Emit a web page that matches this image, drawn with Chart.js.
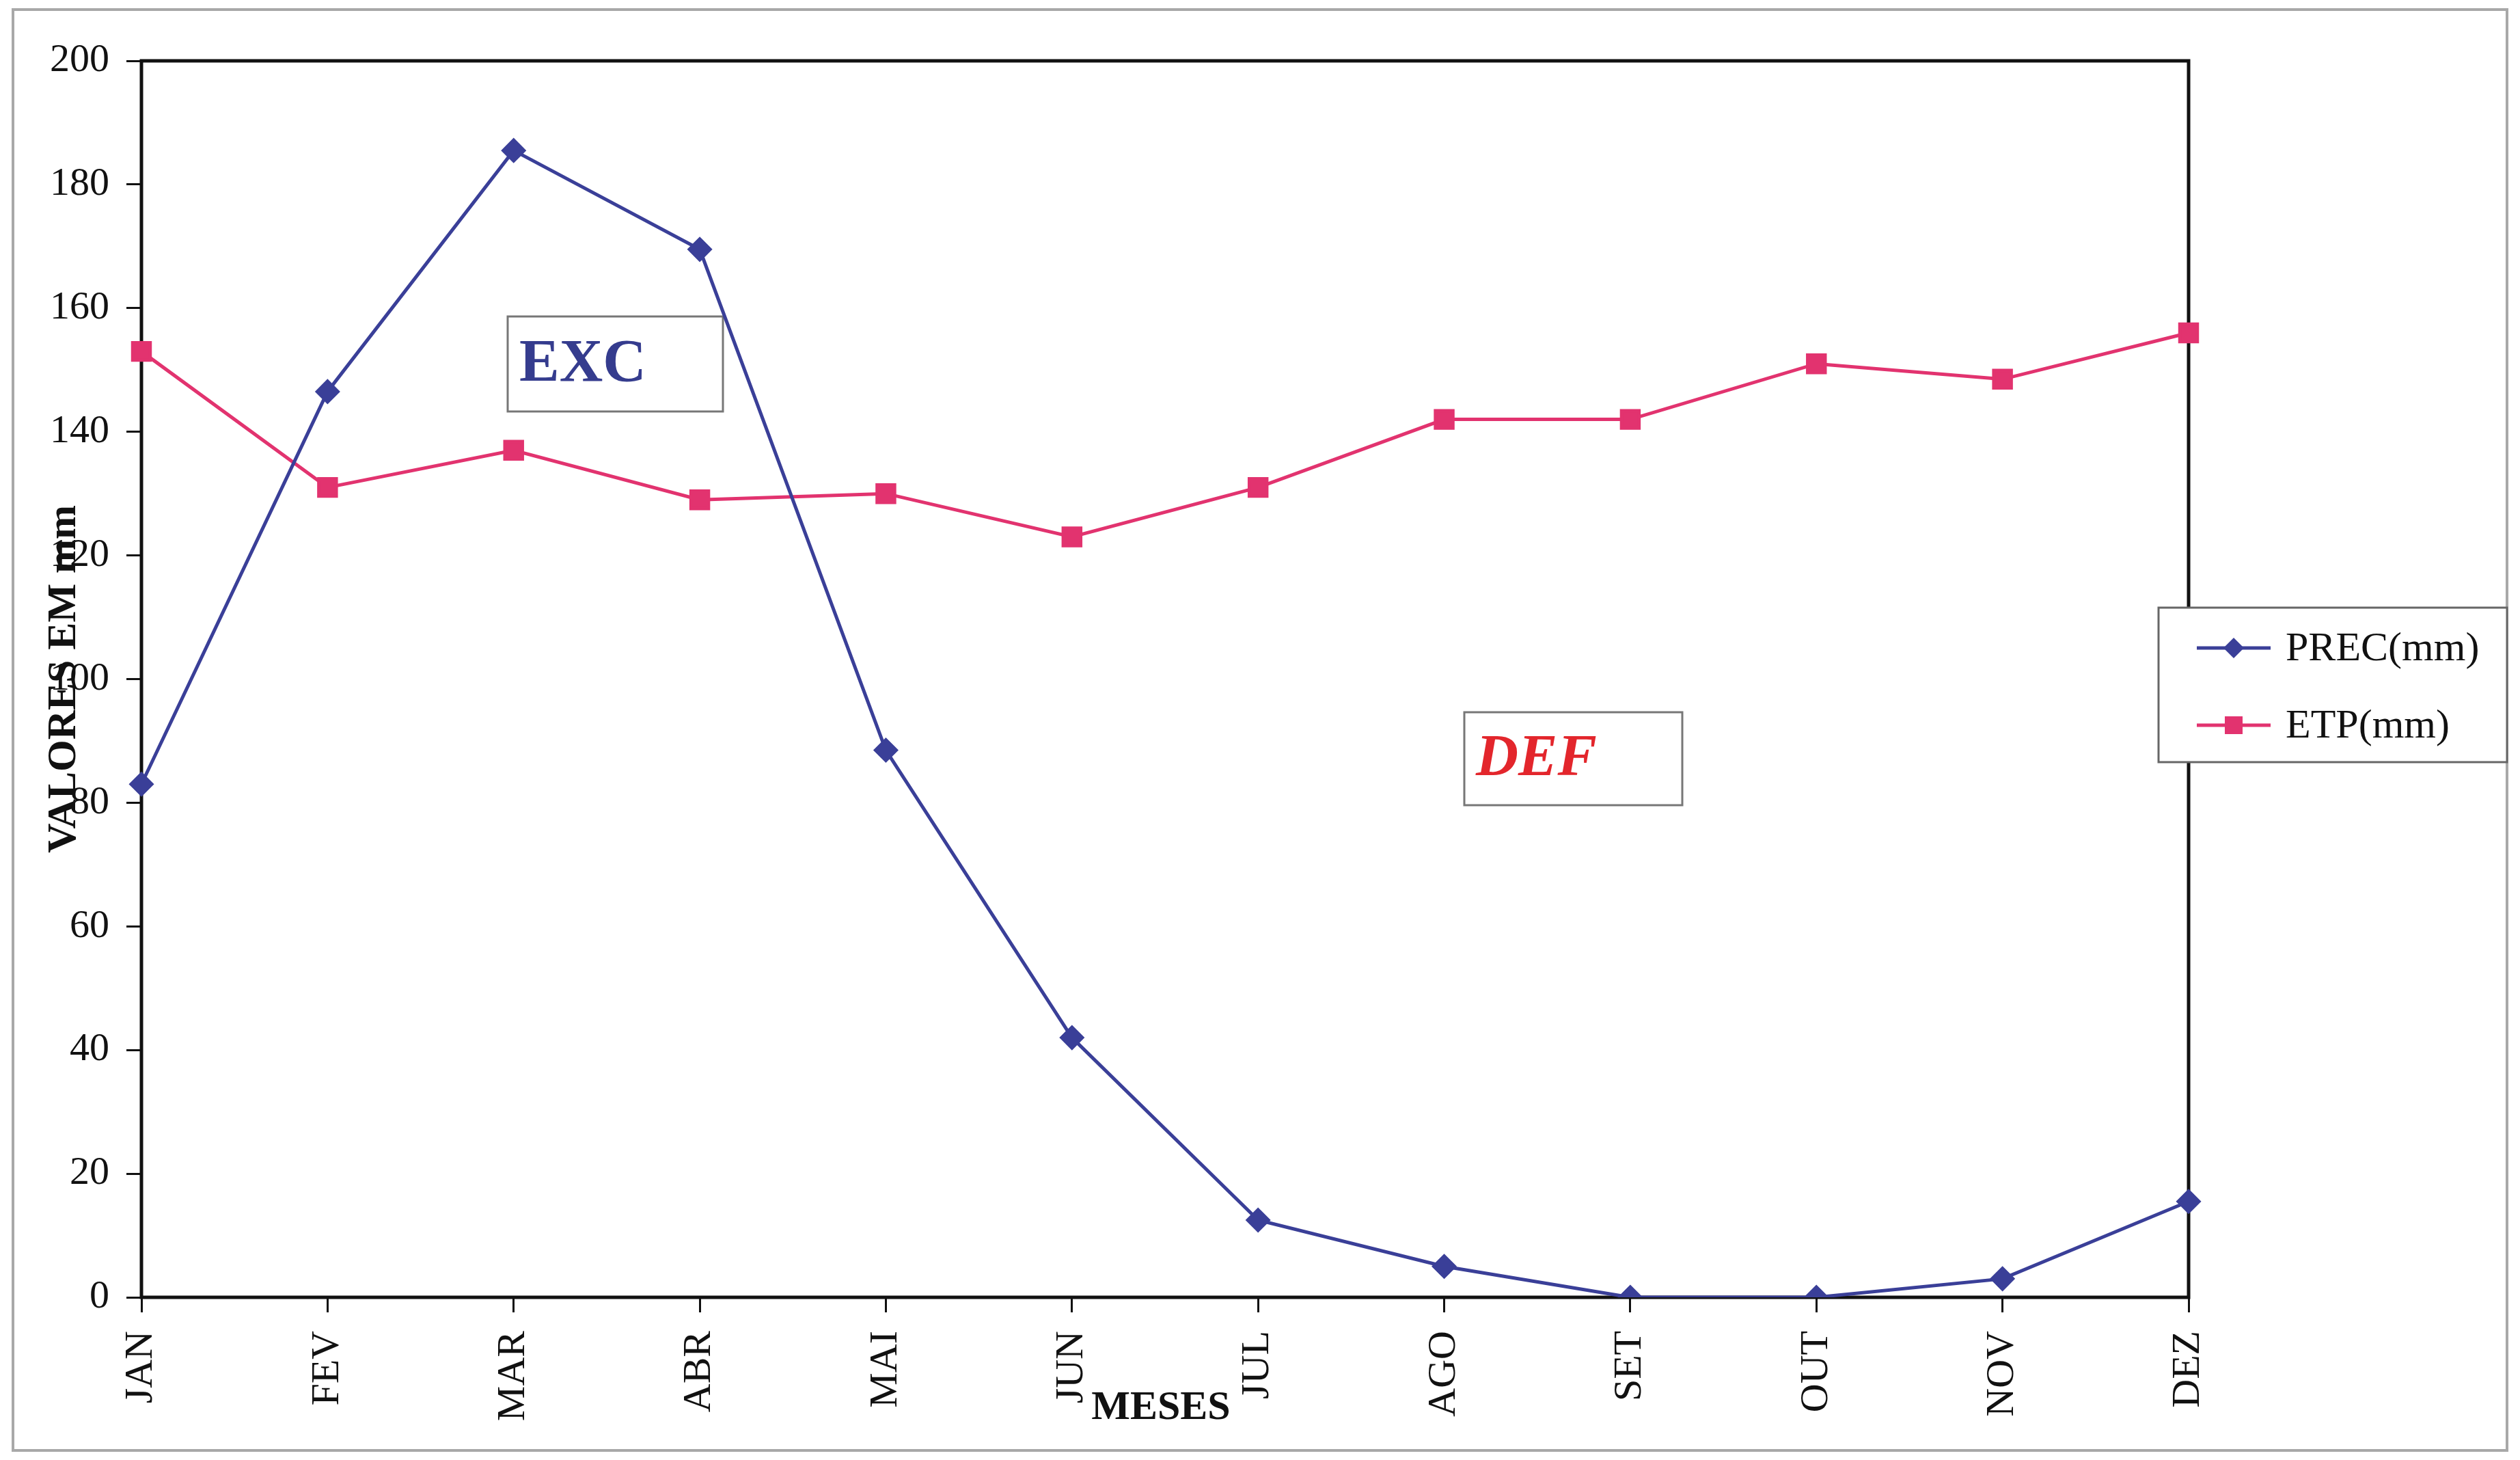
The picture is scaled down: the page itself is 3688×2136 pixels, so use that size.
<!DOCTYPE html>
<html>
<head>
<meta charset="utf-8">
<script src="https://cdn.jsdelivr.net/npm/chart.js@4"></script>
<style>
  html, body { margin: 0; padding: 0; background: #fff; }
  #wrap { width: 3688px; height: 2136px; }
</style>
</head>
<body>
<div id="wrap"><canvas id="balanceChart" width="3688" height="2136"></canvas></div>
<script>
const months = ["JAN", "FEV", "MAR", "ABR", "MAI", "JUN", "JUL", "AGO", "SET", "OUT", "NOV", "DEZ"];
const precValues = [83, 146.5, 185.5, 169.5, 88.5, 42, 12.5, 5, 0, 0, 3, 15.5];
const etpValues = [153, 131, 137, 129, 130, 123, 131, 142, 142, 151, 148.5, 156];
const yTicks = [0, 20, 40, 60, 80, 100, 120, 140, 160, 180, 200];

const serif = "'Liberation Serif', 'DejaVu Serif', serif";
const blue = "#3a3f98";
const pink = "#e2336f";

const decorations = {
    id: "decorations",
    beforeDatasetsDraw(chart) {
        const { ctx, chartArea: a } = chart;
        ctx.save();
        // scanned page frame
        ctx.strokeStyle = "#a8a8a8";
        ctx.lineWidth = 4;
        ctx.strokeRect(19, 14, 3650, 2108);

        // EXC box
        ctx.fillStyle = "#fff";
        ctx.fillRect(743, 463, 315, 139);
        ctx.strokeStyle = "#777";
        ctx.lineWidth = 3;
        ctx.strokeRect(743, 463, 315, 139);
        ctx.fillStyle = "#353c8e";
        ctx.font = "bold 88px " + serif;
        ctx.textBaseline = "alphabetic";
        ctx.textAlign = "left";
        ctx.fillText("EXC", 760, 557);

        // DEF box
        ctx.fillStyle = "#fff";
        ctx.fillRect(2143, 1042, 319, 136);
        ctx.strokeStyle = "#777";
        ctx.strokeRect(2143, 1042, 319, 136);
        ctx.fillStyle = "#e3262c";
        ctx.font = "italic bold 86px " + serif;
        ctx.fillText("DEF", 2160, 1134);

        // plot frame
        ctx.strokeStyle = "#111";
        ctx.lineWidth = 5;
        ctx.strokeRect(a.left, a.top, a.right - a.left, a.bottom - a.top);

        // axis titles
        ctx.fillStyle = "#111";
        ctx.font = "bold 60px " + serif;
        ctx.textAlign = "center";
        ctx.textBaseline = "middle";
        ctx.fillText("MESES", (a.left + a.right) / 2 - 6, 2060);
        ctx.translate(94, (a.top + a.bottom) / 2);
        ctx.rotate(-Math.PI / 2);
        ctx.font = "bold 60px " + serif;
        ctx.fillText("VALORES EM mm", 0, 0);
        ctx.restore();
    },
    afterDatasetsDraw(chart) {
        const { ctx } = chart;
        ctx.save();
        // legend box
        ctx.fillStyle = "#fff";
        ctx.fillRect(3159, 889, 510, 226);
        ctx.strokeStyle = "#666";
        ctx.lineWidth = 3;
        ctx.strokeRect(3159, 889, 510, 226);
        const rows = [
            { label: chart.data.datasets[0].label, color: blue, y: 948, style: "diamond" },
            { label: chart.data.datasets[1].label, color: pink, y: 1061, style: "square" }
        ];
        rows.forEach(r => {
            ctx.strokeStyle = r.color;
            ctx.lineWidth = 5;
            ctx.beginPath();
            ctx.moveTo(3215, r.y);
            ctx.lineTo(3323, r.y);
            ctx.stroke();
            ctx.fillStyle = r.color;
            ctx.beginPath();
            if (r.style === "diamond") {
                ctx.moveTo(3269, r.y - 15);
                ctx.lineTo(3284, r.y);
                ctx.lineTo(3269, r.y + 15);
                ctx.lineTo(3254, r.y);
                ctx.closePath();
            } else {
                ctx.rect(3256, r.y - 13, 26, 26);
            }
            ctx.fill();
            ctx.fillStyle = "#111";
            ctx.font = "60px " + serif;
            ctx.textAlign = "left";
            ctx.textBaseline = "middle";
            ctx.fillText(r.label, 3345, r.y + 2);
        });
        ctx.restore();
    }
};

new Chart(document.getElementById("balanceChart"), {
    type: "line",
    data: {
        labels: months,
        datasets: [{
            label: "PREC(mm)",
            data: precValues,
            borderColor: blue,
            backgroundColor: blue,
            borderWidth: 5,
            tension: 0,
            pointStyle: "rectRot",
            pointRadius: 15,
            pointHoverRadius: 15,
            fill: false
        }, {
            label: "ETP(mm)",
            data: etpValues,
            borderColor: pink,
            backgroundColor: pink,
            borderWidth: 5,
            tension: 0,
            pointStyle: "rect",
            pointRadius: 18,
            pointHoverRadius: 18,
            fill: false
        }]
    },
    options: {
        responsive: false,
        animation: false,
        devicePixelRatio: 1,
        layout: { padding: { left: 0, top: 89, right: 485, bottom: 0 } },
        plugins: {
            legend: { display: false },
            tooltip: { enabled: false }
        },
        scales: {
            x: {
                offset: false,
                grid: { display: true, drawOnChartArea: false, color: "#111", lineWidth: 3, tickLength: 22 },
                border: { display: false },
                ticks: {
                    autoSkip: false,
                    minRotation: 90,
                    maxRotation: 90,
                    padding: 27,
                    color: "#111",
                    font: { family: serif, size: 58 }
                },
                afterFit(scale) { scale.height = 238; }
            },
            y: {
                min: 0,
                max: 200,
                afterBuildTicks(scale) { scale.ticks = yTicks.map(v => ({ value: v })); },
                grid: { display: true, drawOnChartArea: false, color: "#111", lineWidth: 3, tickLength: 22 },
                border: { display: false },
                ticks: {
                    padding: 25,
                    color: "#111",
                    font: { family: serif, size: 58 }
                },
                afterFit(scale) { scale.width = 207; }
            }
        }
    },
    plugins: [decorations]
});
</script>
</body>
</html>
